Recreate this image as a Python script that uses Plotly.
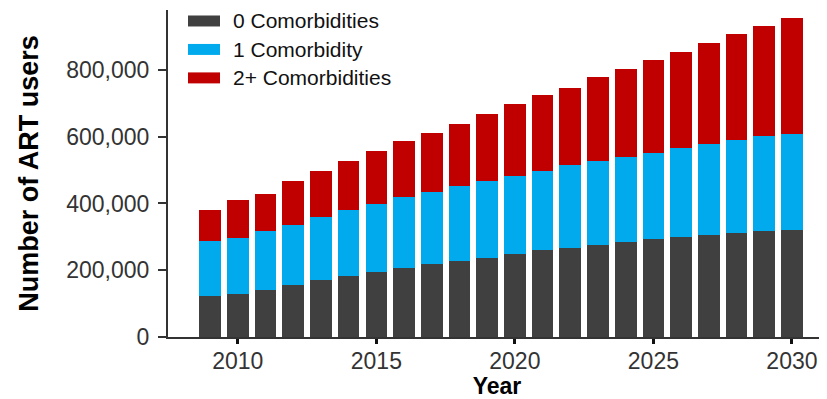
import plotly.graph_objects as go

years = list(range(2009, 2031))
# cumulative top-of-segment readings (thousands)
top0 = [124, 130, 142, 157, 172, 184, 196, 208, 220, 229, 238,
        250, 262, 268, 277, 286, 295, 301, 307, 313, 319, 322]
top1 = [289, 298, 319, 337, 361, 382, 397, 418, 433, 451, 466,
        481, 496, 516, 528, 540, 552, 567, 579, 591, 603, 609]
top2 = [382, 409, 427, 466, 496, 528, 558, 588, 612, 639, 669,
        699, 726, 747, 780, 804, 831, 855, 882, 909, 933, 957]

zero_com = [a * 1000 for a in top0]
one_com = [(b - a) * 1000 for a, b in zip(top0, top1)]
two_com = [(c - b) * 1000 for b, c in zip(top1, top2)]

series_names = ["0 Comorbidities", "1 Comorbidity", "2+ Comorbidities"]
series_colors = ["#404040", "#00AAEC", "#C00000"]
series_values = [zero_com, one_com, two_com]

y_tickvals = [0, 200000, 400000, 600000, 800000]
y_ticktext = ["0", "200,000", "400,000", "600,000", "800,000"]
x_tickvals = [2010, 2015, 2020, 2025, 2030]

fig = go.Figure()
for name, color, vals in zip(series_names, series_colors, series_values):
    fig.add_trace(go.Bar(x=years, y=vals, name=name, marker_color=color,
                         marker_line_width=0, showlegend=False))

# page body has an 8px margin, so the figure is sized to the visible area
OFF = 8
W, H = 827 - OFF, 399 - OFF
L, R, T, B = 168 - OFF, 1, 10 - OFF, 399 - 337.5
pw, ph = W - L - R, H - T - B

def px2paper(x, y):
    # x, y are screen pixels
    return (x - OFF - L) / pw, (H - B - (y - OFF)) / ph

shapes = []
annotations = []
legend_y = [21, 49.5, 78]
for name, color, cy in zip(series_names, series_colors, legend_y):
    x0, y0 = px2paper(188, cy - 5.5)
    x1, y1 = px2paper(220, cy + 5.5)
    shapes.append(dict(type="rect", xref="paper", yref="paper",
                       x0=x0, x1=x1, y0=y1, y1=y0,
                       fillcolor=color, line_width=0))
    ax, ay = px2paper(231, cy)
    annotations.append(dict(text=name, xref="paper", yref="paper",
                            x=ax, y=ay, xanchor="left", yanchor="middle",
                            showarrow=False,
                            font=dict(size=21, color="#111111",
                                      family="Liberation Sans, Arial")))

fig.update_layout(
    width=W, height=H,
    margin=dict(l=L, r=R, t=T, b=B, pad=0, autoexpand=False),
    barmode="stack", bargap=0.22,
    plot_bgcolor="white", paper_bgcolor="white",
    font=dict(family="Liberation Sans, Arial", color="#333333"),
    shapes=shapes, annotations=annotations,
    xaxis=dict(range=[2007.48, 2031.23], tickvals=x_tickvals,
               automargin=False,
               showgrid=False, zeroline=False,
               showline=True, linecolor="#333333", linewidth=2,
               ticks="outside", ticklen=5, tickwidth=3, tickcolor="#111111",
               ticklabelstandoff=-3,
               tickfont=dict(size=23, color="#333333"),
               title=dict(text="<b>Year</b>", standoff=10,
                          font=dict(size=23, color="#000000"))),
    yaxis=dict(range=[0, 979700], tickvals=y_tickvals, ticktext=y_ticktext,
               automargin=False,
               showgrid=False, zeroline=False,
               showline=True, linecolor="#333333", linewidth=2,
               ticks="outside", ticklen=8, tickwidth=2, tickcolor="#333333",
               ticklabelstandoff=4,
               tickfont=dict(size=23, color="#333333"),
               title=dict(text="<b>Number of ART users</b>", standoff=20,
                          font=dict(size=27, color="#000000"))),
)

fig.write_html("out.html")
